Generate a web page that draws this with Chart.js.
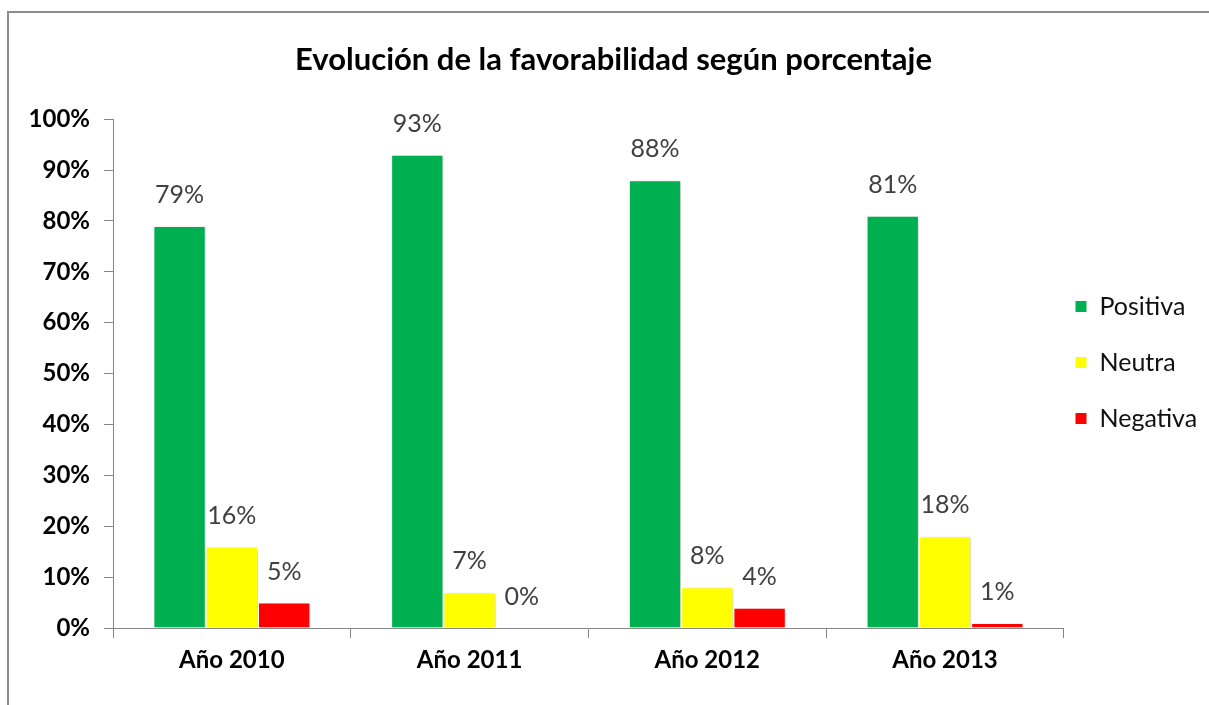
<!DOCTYPE html>
<html><head><meta charset="utf-8">
<script src="https://cdn.jsdelivr.net/npm/chart.js@4"></script>
<style>
html,body{margin:0;padding:0;background:#fff;overflow:hidden}
#wrap{position:relative;width:1209px;height:705px}
#frame{position:absolute;left:7px;top:11px;width:1300px;height:800px;border-left:2px solid #8c8c8c;border-top:2px solid #8c8c8c;pointer-events:none}
canvas{position:absolute;left:0;top:0}
</style></head><body>
<div id="wrap"><canvas id="c" width="1209" height="705"></canvas><div id="frame"></div></div>
<script>
const categories = ['Año 2010', 'Año 2011', 'Año 2012', 'Año 2013'];
const seriesNames = ['Positiva', 'Neutra', 'Negativa'];
const positiva = [79, 93, 88, 81];
const neutra = [16, 7, 8, 18];
const negativa = [5, 0, 4, 1];
const seriesColors = ['#00B050', '#FFFF00', '#FF0000'];
const yMin = 0, yMax = 100, yStep = 10;
const titleText = 'Evolución de la favorabilidad según porcentaje';

const FONT = "Lato, 'Liberation Sans', sans-serif";

const barShadow = {
  id: 'barShadow',
  beforeDatasetsDraw(chart) {
    const c = chart.ctx; c.save();
    c.shadowColor = 'rgba(0,0,0,0.18)'; c.shadowBlur = 4; c.shadowOffsetX = 2; c.shadowOffsetY = 1;
  },
  afterDatasetsDraw(chart) { chart.ctx.restore(); }
};

const valueLabels = {
  id: 'valueLabels',
  afterDatasetsDraw(chart) {
    const ctx = chart.ctx;
    ctx.save();
    ctx.font = `normal 25px ${FONT}`;
    ctx.fillStyle = '#404040';
    ctx.textAlign = 'center';
    ctx.textBaseline = 'middle';
    chart.data.datasets.forEach((ds, i) => {
      chart.getDatasetMeta(i).data.forEach((bar, j) => {
        ctx.fillText(ds.data[j] + '%', bar.x, bar.y - 31);
      });
    });
    ctx.restore();
  }
};

const legendShift = {
  id: 'legendShift',
  afterLayout(chart) {
    const l = chart.legend; if (!l) return;
    const dx = 1075 - (l.left + 31);
    const dy = 10;
    l.left += dx; l.right += dx; l.top += dy; l.bottom += dy;
  }
};

const axisColor = '#868686';

new Chart(document.getElementById('c'), {
  type: 'bar',
  data: {
    labels: categories,
    datasets: [
      { label: seriesNames[0], data: positiva, backgroundColor: seriesColors[0] },
      { label: seriesNames[1], data: neutra, backgroundColor: seriesColors[1] },
      { label: seriesNames[2], data: negativa, backgroundColor: seriesColors[2] }
    ].map(d => Object.assign(d, { borderColor: '#ffffff', borderWidth: 1, categoryPercentage: 0.66, barPercentage: 1 }))
  },
  options: {
    responsive: false,
    animation: false,
    devicePixelRatio: 1,
    layout: { padding: { left: 0, right: -18, top: 0, bottom: 0 } },
    plugins: {
      title: { display: true, text: titleText, color: '#000', font: { family: FONT, size: 31, weight: 'bold' }, padding: { top: 41, bottom: 41 } },
      legend: { position: 'right', align: 'center',
        labels: { boxWidth: 12, boxHeight: 12, padding: 31, color: '#111', font: { family: FONT, size: 25 } } },
      tooltip: { enabled: false }
    },
    scales: {
      x: {
        grid: { drawOnChartArea: false, drawTicks: true, tickLength: 10, offset: true, color: axisColor },
        border: { color: axisColor, width: 1 },
        ticks: { color: '#000', font: { family: FONT, size: 24, weight: 'bold' }, padding: 8 },
        afterFit(s) { s.height = 77; }
      },
      y: {
        min: yMin, max: yMax,
        grid: { drawOnChartArea: false, drawTicks: true, tickLength: 9, color: axisColor },
        border: { color: axisColor, width: 1 },
        ticks: { stepSize: yStep, color: '#000', font: { family: FONT, size: 24, weight: 'bold' }, padding: 14, callback: v => v + '%' },
        afterFit(s) { s.width = 113; }
      }
    }
  },
  plugins: [barShadow, valueLabels, legendShift]
});
</script>
</body></html>
